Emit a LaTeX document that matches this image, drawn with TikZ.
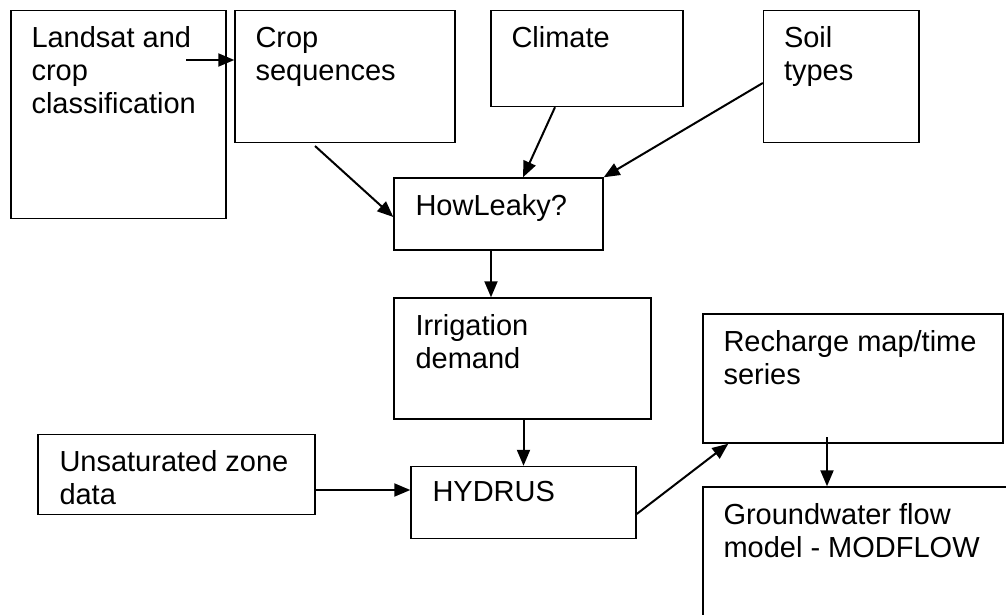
\documentclass[tikz,border=0pt]{standalone}
\usepackage{fontspec}
\setmainfont{Liberation Sans}
\usetikzlibrary{arrows.meta}
\newcommand\boxtext[1]{\begin{tabular}[t]{@{}l@{}}#1\end{tabular}}
\tikzset{
  blk/.style={draw=black, line width=1.4pt, rectangle, inner sep=0pt},
  txt/.style={anchor=base west, inner sep=0pt, font=\fontsize{29}{33}\selectfont},
  arr/.style={line width=2pt, -{Triangle[length=16pt,width=13pt]}},
}
\begin{document}
\begin{tikzpicture}[x=1pt,y=-1pt]
\path[use as bounding box] (0,0) rectangle (1006,615);
\clip (0,0) rectangle (1006,615);
% boxes
\node[blk, minimum width=215pt, minimum height=208pt] (land) at (118.5,114.5) {};
\node[blk, minimum width=220pt, minimum height=132pt] (crop) at (345,76.5) {};
\node[blk, minimum width=192pt, minimum height=96pt] (clim) at (587,58.5) {};
\node[blk, minimum width=155.5pt, minimum height=132pt] (soil) at (841.25,76.5) {};
\node[blk, minimum width=209pt, minimum height=72pt] (how) at (498.5,214) {};
\node[blk, minimum width=257pt, minimum height=121pt] (irr) at (522.5,358.5) {};
\node[blk, minimum width=300pt, minimum height=129pt] (rech) at (853,378.5) {};
\node[blk, minimum width=277pt, minimum height=80pt] (unsat) at (176.5,474.5) {};
\node[blk, minimum width=225pt, minimum height=72pt] (hyd) at (523.5,502.5) {};
\node[blk, minimum width=337pt, minimum height=163pt] (gw) at (871.5,568.5) {};
% texts
\node[txt] (landT) at ([shift={(21,38)}]land.north west) {\boxtext{Landsat and\\crop\\classification}};
\node[txt] (cropT) at ([shift={(21,38)}]crop.north west) {\boxtext{Crop\\sequences}};
\node[txt] (climT) at ([shift={(21,38)}]clim.north west) {\boxtext{Climate}};
\node[txt] (soilT) at ([shift={(21,38)}]soil.north west) {\boxtext{Soil\\types}};
\node[txt] (howT) at ([shift={(22,38)}]how.north west) {\boxtext{HowLeaky?}};
\node[txt] (irrT) at ([shift={(22,38)}]irr.north west) {\boxtext{Irrigation\\demand}};
\node[txt] (rechT) at ([shift={(21,38)}]rech.north west) {\boxtext{Recharge map/time\\series}};
\node[txt] (unsatT) at ([shift={(22,38)}]unsat.north west) {\boxtext{Unsaturated zone\\data}};
\node[txt] (hydT) at ([shift={(22,36)}]hyd.north west) {\boxtext{HYDRUS}};
\node[txt] (gwT) at ([shift={(21,38)}]gw.north west) {\boxtext{Groundwater flow\\model - MODFLOW}};
% connectors
\coordinate (a1) at (186,60);
\draw[arr] (a1) -- (a1 -| crop.west);
\coordinate (c2) at (315,146);
\draw[arr] (c2) -- ([yshift=-3pt]how.west);
\draw[arr] ([xshift=-32pt]clim.south) -- ([xshift=24.5pt]how.north);
\draw[arr] ([yshift=-6.5pt]soil.west) -- (how.north east);
\coordinate (h1) at ([xshift=-7.5pt]how.south);
\draw[arr] (h1) -- (h1 |- irr.north);
\draw[arr] (hyd.north |- irr.south) -- (hyd.north);
\coordinate (u1) at ([yshift=-15.5pt]unsat.east);
\draw[arr] (u1) -- (u1 -| hyd.west);
\draw[arr] ([yshift=-11.5pt]hyd.east) -- ([xshift=26pt]rech.south west);
\coordinate (r1) at (827,437);
\draw[arr] (r1) -- (r1 |- gw.north);
\end{tikzpicture}
\end{document}
